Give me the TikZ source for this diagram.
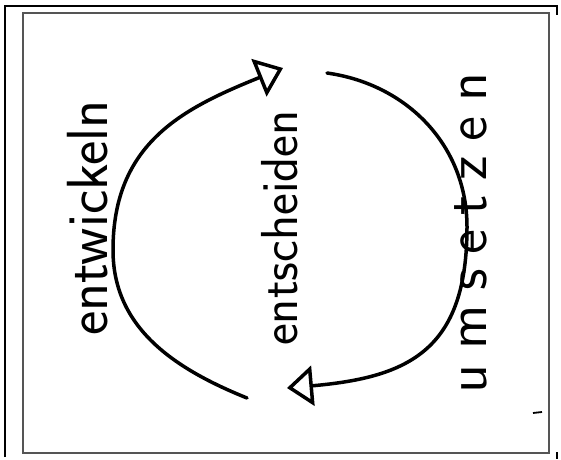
\documentclass[tikz,border=0pt]{standalone}
\usepackage{fontspec}
\usepackage{tikz}
\usetikzlibrary{arrows.meta}
\definecolor{framegray}{RGB}{85,85,85}
\newfontfamily\spacedsans{lmsans10-regular.otf}[LetterSpace=26]

\begin{document}
\begin{tikzpicture}[x=1pt, y=1pt,
  word/.style={font=\sffamily\fontsize{#1}{#1}\selectfont, inner sep=0pt, anchor=base},
  looparrow/.style={line width=3.5pt, line cap=round, -{Triangle[open, length=26pt, width=40pt]}}]
  \useasboundingbox (0,0) rectangle (561,459);
  \draw[line width=2pt] (5,2) -- (5,453) -- (556.5,453) -- (556.5,444);
  \draw[line width=2pt] (556.5,7) -- (556.5,0);
  \draw[framegray, line width=1.5pt] (23,6) rectangle (549,446);
  \coordinate (lstart) at (247,61);
  \coordinate (lwest) at (113,209);
  \coordinate (ltip) at (283,391);
  \coordinate (rstart) at (327,386);
  \coordinate (reast) at (467,232);
  \coordinate (rtip) at (287,71);
  \draw[looparrow] (lstart) to[out=158, in=270] (lwest) to[out=90, in=202, looseness=1.1] (ltip);
  \draw[looparrow] (rstart) to[out=-8, in=90] (reast) to[out=270, in=5, looseness=1.3] (rtip);
  \node[word=58, rotate=90] (entwickeln) at (107,241) {entwickeln};
  \node[word=52, rotate=90] (entscheiden) at (297,231) {entscheiden};
  \node[word=56, rotate=90, font=\spacedsans\fontsize{56}{56}\selectfont] (umsetzen) at (486,226) {umsetzen};
  \draw[line width=1.8pt] (533,46) -- (542,47);
\end{tikzpicture}
\end{document}
